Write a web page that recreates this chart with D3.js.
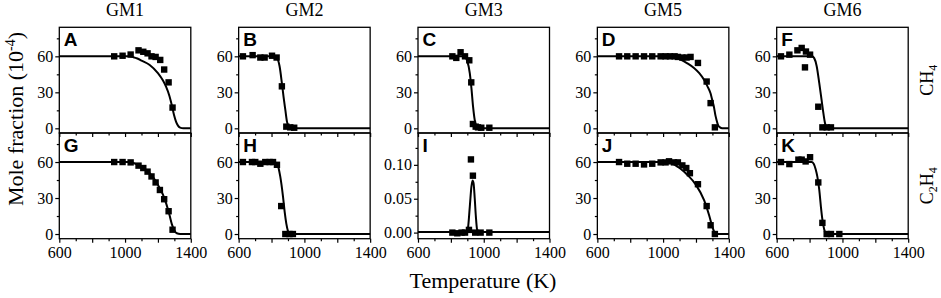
<!DOCTYPE html>
<html>
<head>
<meta charset="utf-8">
<script src="https://cdn.jsdelivr.net/npm/d3@7"></script>
<style>
  body { margin: 0; background: #fff; }
  svg { display: block; }
</style>
</head>
<body>
<div id="chart"></div>
<script>

// column titles, row gases and panel letters
const mixtures = ["GM1", "GM2", "GM3", "GM5", "GM6"];
const gases = ["CH", "C"];
const letters = [["A", "B", "C", "D", "F"], ["G", "H", "I", "J", "K"]];

// tick values
const xTicks = [600, 1000, 1400];
const xTicksMajor = [600, 800, 1000, 1200, 1400];
const xTicksMinor = [700, 900, 1100, 1300];
const yTicks = [0, 30, 60];
const yTicksMinor = [15, 45, 75];
const yTicksI = [0, 0.05, 0.10];
const yTicksIMinor = [0.025, 0.075, 0.125];

// measured points [T (K), mole fraction]
const ptsA = [[934,60],[985,60.5],[1034,61.5],[1082,65],[1111,63.8],[1137,62.5],[1161,60],[1186,59.5],[1214,57],[1238,49],[1265,38.3],[1289,17.3]];
const ptsB = [[626,60],[685,61],[732,59],[758,59],[803,60.5],[831,59],[863,35],[890,1.4],[914,0.8],[938,0.5]];
const ptsC = [[809,60],[833,58.7],[859,63.4],[886,60],[912,56.7],[924,38.3],[934,3.6],[951,1.4],[965,0.8],[985,0.5],[1034,0.5]];
const ptsD = [[732,60],[782,60],[833,60],[884,60],[934,60],[985,60],[1015,60],[1042,60],[1070,60],[1090,59.5],[1117,59],[1143,59],[1167,59.5],[1212,54.5],[1265,39],[1289,21],[1315,0.8]];
const ptsF = [[626,60],[677,61.4],[726,65],[752,67],[778,64],[803,61.4],[772,50.8],[853,18],[878,0.8],[904,0.8],[930,0.8]];
const ptsG = [[934,60],[985,60],[1034,59.7],[1082,57],[1111,55],[1137,52],[1161,48],[1186,43],[1212,36.7],[1238,29],[1265,19],[1289,3.6]];
const ptsH = [[626,60],[681,60],[701,60],[732,58.6],[762,60],[788,60],[809,60],[833,57.7],[859,23.3],[884,0],[909,0],[930,0]];
const ptsI = [[809,0],[839,-0.001],[865,0],[886,0],[910,0.004],[922,0.108],[934,0.084],[948,0],[981,0],[1034,0]];
const ptsJ = [[732,60],[782,58.6],[833,58.6],[884,58],[934,58.6],[985,59.7],[1015,59.7],[1036,60.6],[1066,59.7],[1090,59.7],[1117,57.2],[1141,55],[1163,50.7],[1212,41.5],[1265,23.3],[1289,7.3],[1315,0]];
const ptsK = [[626,60],[677,58.3],[732,62],[752,62],[776,60.5],[803,64],[853,43],[878,9.3],[904,0],[930,0],[981,0]];

// model curves [T (K), mole fraction]
const fitA = [[600,60],[1020,60],[1050,59.3],[1075,58.2],[1100,56.4],[1150,52.8],[1200,46],[1230,40],[1250,34.5],[1270,27],[1285,19],[1298,11],[1310,5.5],[1322,2.2],[1335,0.6],[1355,0.05],[1400,0]];
const fitB = [[600,60],[810,60],[830,59],[849,51.7],[863,37.7],[873,26.5],[884,15.4],[894,5.6],[904,1.4],[915,0.2],[930,0],[1400,0]];
const fitC = [[600,60],[870,60],[888,59],[900,56],[915,46],[925,33.5],[935,18],[945,7],[955,2],[965,0.5],[980,0],[1400,0]];
const fitD = [[600,60],[1040,60],[1070,59.2],[1107,57.3],[1150,54],[1188,50.3],[1220,46],[1249,40.5],[1270,35],[1289,29],[1300,23],[1309,18],[1318,11],[1325,7],[1335,2.5],[1346,0.8],[1360,0.1],[1400,0]];
const fitF = [[600,60],[815,60],[828,58.5],[843,52],[859,37.7],[873,23.7],[884,12.6],[894,4.2],[904,0.8],[915,0.1],[930,0],[1400,0]];
const fitG = [[600,60],[1030,60],[1060,58.8],[1100,55.8],[1150,50.7],[1200,41],[1230,33],[1250,25.5],[1270,16],[1285,8],[1300,3],[1315,0.6],[1335,0.05],[1400,0]];
const fitH = [[600,60],[815,60],[835,58],[853,48],[870,31],[880,18.5],[890,8.7],[900,2.5],[910,0.4],[925,0],[1400,0]];
const fitI = [[600,0.001],[890,0.001],[902,0.004],[915,0.038],[925,0.068],[932,0.077],[938,0.073],[945,0.051],[952,0.024],[960,0.004],[970,0.001],[1400,0.001]];
const fitJ = [[600,60],[1000,60],[1030,59.5],[1050,59],[1100,55],[1150,49],[1200,41],[1250,28],[1280,15.7],[1300,5.9],[1315,1],[1330,0.1],[1400,0]];
const fitK = [[600,60],[812,60],[825,58.5],[837,54],[847,48],[859,36.7],[869,22.7],[877,13],[884,7],[894,1.7],[905,0.2],[920,0],[1400,0]];

const points = [[ptsA, ptsB, ptsC, ptsD, ptsF], [ptsG, ptsH, ptsI, ptsJ, ptsK]];
const fits = [[fitA, fitB, fitC, fitD, fitF], [fitG, fitH, fitI, fitJ, fitK]];

// layout
const width = 941;
const height = 298;
const panelLeft = 59.3;
const panelStep = 179.35;
const panelW = 131.5;
const rowTop = [27.3, 133];
const panelH = 105.7;
const serif = "Liberation Serif, Times New Roman, serif";

var svg = d3.select("#chart")
  .append("svg")
    .attr("width", width)
    .attr("height", height);

var x = d3.scaleLinear().domain([600, 1400]).range([0, panelW]);

for (var r = 0; r < 2; r++) {
  for (var c = 0; c < 5; c++) {
    var isI = (r == 1 && c == 2);
    var y = d3.scaleLinear()
        .domain(isI ? [-0.009, 0.147] : [-3.9, 84.2])
        .range([panelH, 0]);

    var g = svg.append("g")
        .attr("transform", "translate(" + (panelLeft + c * panelStep) + "," + rowTop[r] + ")");

    // y axis, major and minor ticks
    var yAxis = d3.axisLeft(y)
        .tickValues(isI ? yTicksI : yTicks)
        .tickSize(4)
        .tickSizeOuter(0)
        .tickPadding(2)
        .tickFormat(isI ? d3.format(".2f") : d3.format("d"));
    g.append("g").call(yAxis);
    g.append("g").call(d3.axisLeft(y)
        .tickValues(isI ? yTicksIMinor : yTicksMinor)
        .tickSize(2.5).tickSizeOuter(0).tickFormat(""));

    // x axis, labels only on the bottom row
    var xAxis = d3.axisBottom(x)
        .tickValues(xTicksMajor)
        .tickSize(4)
        .tickSizeOuter(0)
        .tickPadding(4)
        .tickFormat(function(d) { return (r == 1 && xTicks.indexOf(d) >= 0) ? d : ""; });
    g.append("g").attr("transform", "translate(0," + panelH + ")").call(xAxis);
    g.append("g").attr("transform", "translate(0," + panelH + ")")
        .call(d3.axisBottom(x).tickValues(xTicksMinor).tickSize(2.5).tickSizeOuter(0).tickFormat(""));

    g.selectAll(".domain").remove();
    g.selectAll(".tick line").attr("stroke", "#000").attr("stroke-width", 1.2);
    g.selectAll(".tick text")
        .attr("font-family", serif)
        .attr("font-size", 16)
        .attr("fill", "#000");

    // model curve
    var line = d3.line()
        .x(function(d) { return x(d[0]); })
        .y(function(d) { return y(d[1]); })
        .curve(d3.curveMonotoneX);

    g.append("path")
        .datum(fits[r][c])
        .attr("fill", "none")
        .attr("stroke", "#000")
        .attr("stroke-width", 2)
        .attr("d", line);

    // measured points
    g.selectAll(".pt")
        .data(points[r][c])
      .enter().append("rect")
        .attr("class", "pt")
        .attr("x", function(d) { return x(d[0]) - 3.2; })
        .attr("y", function(d) { return y(d[1]) - 3.2; })
        .attr("width", 6.4)
        .attr("height", 6.4)
        .attr("fill", "#000");

    // frame
    g.append("rect")
        .attr("width", panelW)
        .attr("height", panelH)
        .attr("fill", "none")
        .attr("stroke", "#000")
        .attr("stroke-width", 1.3);

    // panel letter
    g.append("text")
        .attr("x", 4.5)
        .attr("y", 18.5)
        .attr("font-family", "Liberation Sans, Arial, sans-serif")
        .attr("font-weight", "bold")
        .attr("font-size", 19)
        .text(letters[r][c]);
  }
}

// column titles
svg.selectAll(".title")
    .data(mixtures)
  .enter().append("text")
    .attr("class", "title")
    .attr("x", function(d, i) { return panelLeft + i * panelStep + panelW / 2; })
    .attr("y", 16)
    .attr("text-anchor", "middle")
    .attr("font-family", serif)
    .attr("font-size", 18)
    .text(function(d) { return d; });

// row labels on the right
var ch4 = svg.append("text")
    .attr("transform", "translate(933," + (rowTop[0] + panelH / 2) + ") rotate(-90)")
    .attr("text-anchor", "middle")
    .attr("font-family", serif)
    .attr("font-size", 18);
ch4.append("tspan").text(gases[0]);
ch4.append("tspan").attr("font-size", 12).attr("dy", 4).text("4");

var c2h4 = svg.append("text")
    .attr("transform", "translate(933," + (rowTop[1] + panelH / 2) + ") rotate(-90)")
    .attr("text-anchor", "middle")
    .attr("font-family", serif)
    .attr("font-size", 18);
c2h4.append("tspan").text(gases[1]);
c2h4.append("tspan").attr("font-size", 12).attr("dy", 4).text("2");
c2h4.append("tspan").attr("dy", -4).text("H");
c2h4.append("tspan").attr("font-size", 12).attr("dy", 4).text("4");

// axis titles
var ylab = svg.append("text")
    .attr("transform", "translate(23,119) rotate(-90)")
    .attr("text-anchor", "middle")
    .attr("font-family", serif)
    .attr("font-size", 22);
ylab.append("tspan").text("Mole fraction (10");
ylab.append("tspan").attr("font-size", 14).attr("dy", -8).text("-4");
ylab.append("tspan").attr("dy", 8).text(")");

svg.append("text")
    .attr("x", 483)
    .attr("y", 288)
    .attr("text-anchor", "middle")
    .attr("font-family", serif)
    .attr("font-size", 22)
    .text("Temperature (K)");

</script>
</body>
</html>
